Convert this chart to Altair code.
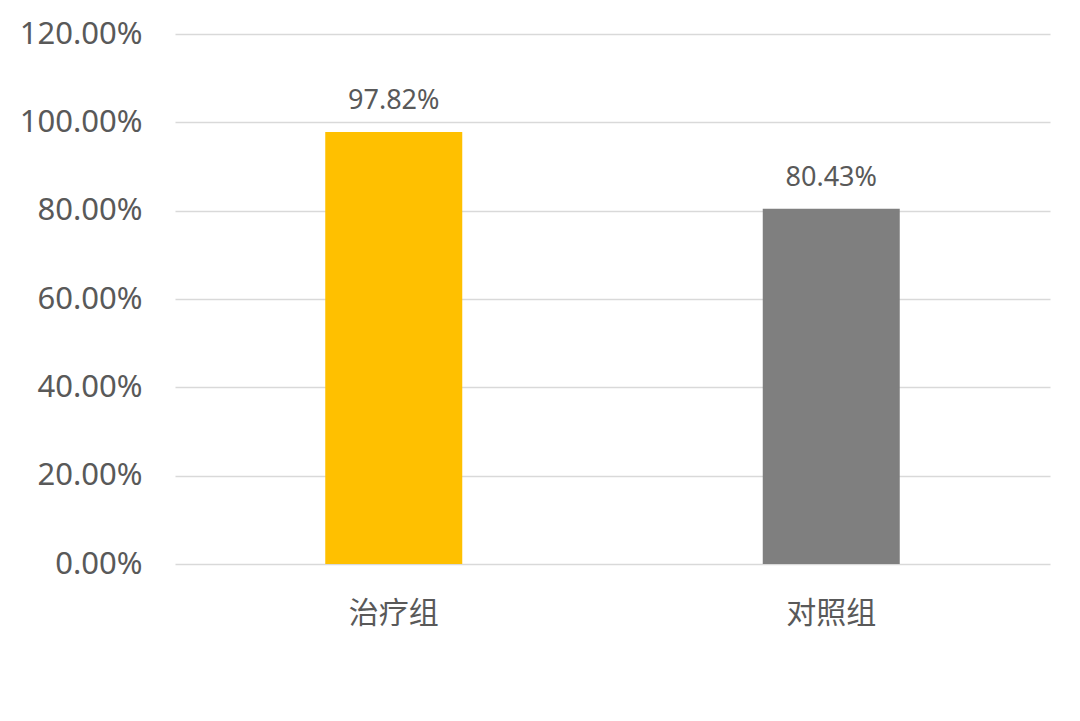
import altair as alt
import pandas as pd

groups = ["治疗组", "对照组"]
rates = [0.9782, 0.8043]
labels = ["97.82%", "80.43%"]
colors = ["#FFC000", "#7F7F7F"]

df = pd.DataFrame({"group": groups, "rate": rates, "label": labels})

x = alt.X("group:N", sort=groups, title=None,
          scale=alt.Scale(paddingInner=0, paddingOuter=0),
          axis=alt.Axis(labelAngle=0, labelFontSize=30, labelColor="#595959",
                        labelFont="Noto Sans CJK SC", labelPadding=34,
                        ticks=False, domain=False, grid=False))
y = alt.Y("rate:Q", title=None,
          scale=alt.Scale(domain=[0, 1.2], nice=False),
          axis=alt.Axis(values=[0, 0.2, 0.4, 0.6, 0.8, 1.0, 1.2], format=".2%",
                        labelFontSize=31, labelColor="#595959", labelFont="Noto Sans",
                        labelPadding=33, ticks=False, domain=False,
                        gridColor="#D9D9D9", gridWidth=1.5))

bars = alt.Chart(df).mark_bar(size=137).encode(
    x=x, y=y,
    color=alt.Color("group:N", scale=alt.Scale(domain=groups, range=colors), legend=None),
)
text = alt.Chart(df).mark_text(fontSize=27, color="#595959", font="Noto Sans",
                               baseline="alphabetic", dy=-23).encode(
    x=alt.X("group:N", sort=groups), y="rate:Q", text="label:N")

chart = alt.layer(bars, text).properties(
    width=875, height=530,
    autosize=alt.AutoSizeParams(type="none"),
    padding={"left": 167, "top": 26, "right": 22, "bottom": 149},
    background="white",
).configure_view(stroke=None)

chart.save("out.html", embed_options={"renderer": "svg", "actions": False})
